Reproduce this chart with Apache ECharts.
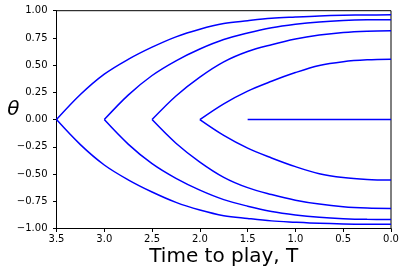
<!DOCTYPE html>
<html>
<head>
<meta charset="utf-8">
<script src="https://cdn.jsdelivr.net/npm/echarts@6/dist/echarts.min.js"></script>
<style>html,body{margin:0;padding:0;background:#fff;}#c{width:405px;height:275px;}</style>
</head>
<body>
<div id="c"></div>
<script>
// Time-to-play values for each curve (start point first)
const T_A = [3.5, 3.25, 3.0, 2.75, 2.5, 2.25, 2.0, 1.75, 1.5, 1.25, 1.0, 0.75, 0.5, 0.25, 0];
const T_B = [3.0, 2.75, 2.5, 2.25, 2.0, 1.75, 1.5, 1.25, 1.0, 0.75, 0.5, 0.25, 0];
const T_C = [2.5, 2.25, 2.0, 1.75, 1.5, 1.25, 1.0, 0.75, 0.5, 0.25, 0];
const T_D = [2.0, 1.75, 1.5, 1.25, 1.0, 0.75, 0.5, 0.25, 0];
const T_E = [1.5, 0];

// theta values, upper branches
const A_up = [0, 0.23, 0.417, 0.553, 0.665, 0.76, 0.83, 0.882, 0.908, 0.93, 0.942, 0.952, 0.958, 0.961, 0.962];
const B_up = [0, 0.225, 0.405, 0.54, 0.648, 0.735, 0.795, 0.843, 0.875, 0.897, 0.91, 0.916, 0.917];
const C_up = [0, 0.217, 0.39, 0.53, 0.625, 0.688, 0.74, 0.776, 0.8, 0.812, 0.816];
const D_up = [0, 0.145, 0.262, 0.352, 0.432, 0.497, 0.532, 0.549, 0.555];
// theta values, lower branches
const A_dn = [0, -0.23, -0.417, -0.553, -0.665, -0.76, -0.83, -0.882, -0.908, -0.93, -0.942, -0.952, -0.958, -0.961, -0.962];
const B_dn = [0, -0.225, -0.405, -0.54, -0.648, -0.735, -0.795, -0.843, -0.875, -0.897, -0.91, -0.916, -0.917];
const C_dn = [0, -0.217, -0.39, -0.53, -0.625, -0.688, -0.74, -0.776, -0.8, -0.812, -0.816];
const D_dn = [0, -0.145, -0.262, -0.352, -0.432, -0.497, -0.532, -0.549, -0.555];
const E_vals = [0, 0];

const xTickFormat = v => v.toFixed(1);
const yTickFormat = v => (v < 0 ? '\u2212' : '') + Math.abs(v).toFixed(2);

const pairs = [
  [T_A, A_up], [T_A, A_dn],
  [T_B, B_up], [T_B, B_dn],
  [T_C, C_up], [T_C, C_dn],
  [T_D, D_up], [T_D, D_dn],
  [T_E, E_vals]
];

const series = pairs.map(([xs, ys]) => ({
  type: 'line',
  data: xs.map((x, i) => [x, ys[i]]),
  showSymbol: false,
  smooth: 0.35,
  lineStyle: { color: '#0000ff', width: 1.5 },
  itemStyle: { color: '#0000ff' },
  silent: true
}));

const font = 'DejaVu Sans';
const chart = echarts.init(document.getElementById('c'), null, { renderer: 'canvas' });
chart.setOption({
  animation: false,
  backgroundColor: '#fff',
  textStyle: { fontFamily: font },
  grid: {
    left: 56.5, right: 14, top: 10.7, bottom: 46.5,
    containLabel: false, outerBoundsMode: 'none',
    show: true, borderColor: '#000', borderWidth: 1, backgroundColor: 'transparent'
  },
  xAxis: {
    type: 'value', inverse: true, min: 0, max: 3.5, interval: 0.5,
    name: 'Time to play, T', nameLocation: 'middle', nameGap: 18, nameMoveOverlap: false,
    nameTextStyle: { fontSize: 20, color: '#000', fontFamily: font },
    axisLine: { show: true, onZero: false, lineStyle: { color: '#000', width: 1 } },
    axisTick: { show: true, length: 3.5, lineStyle: { color: '#000', width: 1 } },
    axisLabel: { formatter: xTickFormat, fontSize: 10, color: '#000', margin: 6, fontFamily: font },
    splitLine: { show: false }
  },
  yAxis: {
    type: 'value', min: -1, max: 1, interval: 0.25,
    name: '\u03b8', nameLocation: 'middle', nameRotate: 0, nameGap: 37, nameMoveOverlap: false,
    nameTextStyle: { fontSize: 20, color: '#000', fontStyle: 'italic', fontFamily: font, verticalAlign: 'bottom' },
    axisLine: { show: true, onZero: false, lineStyle: { color: '#000', width: 1 } },
    axisTick: { show: true, length: 3.5, lineStyle: { color: '#000', width: 1 } },
    axisLabel: { formatter: yTickFormat, fontSize: 10, color: '#000', margin: 9, fontFamily: font },
    splitLine: { show: false }
  },
  series: series
});
</script>
</body>
</html>
